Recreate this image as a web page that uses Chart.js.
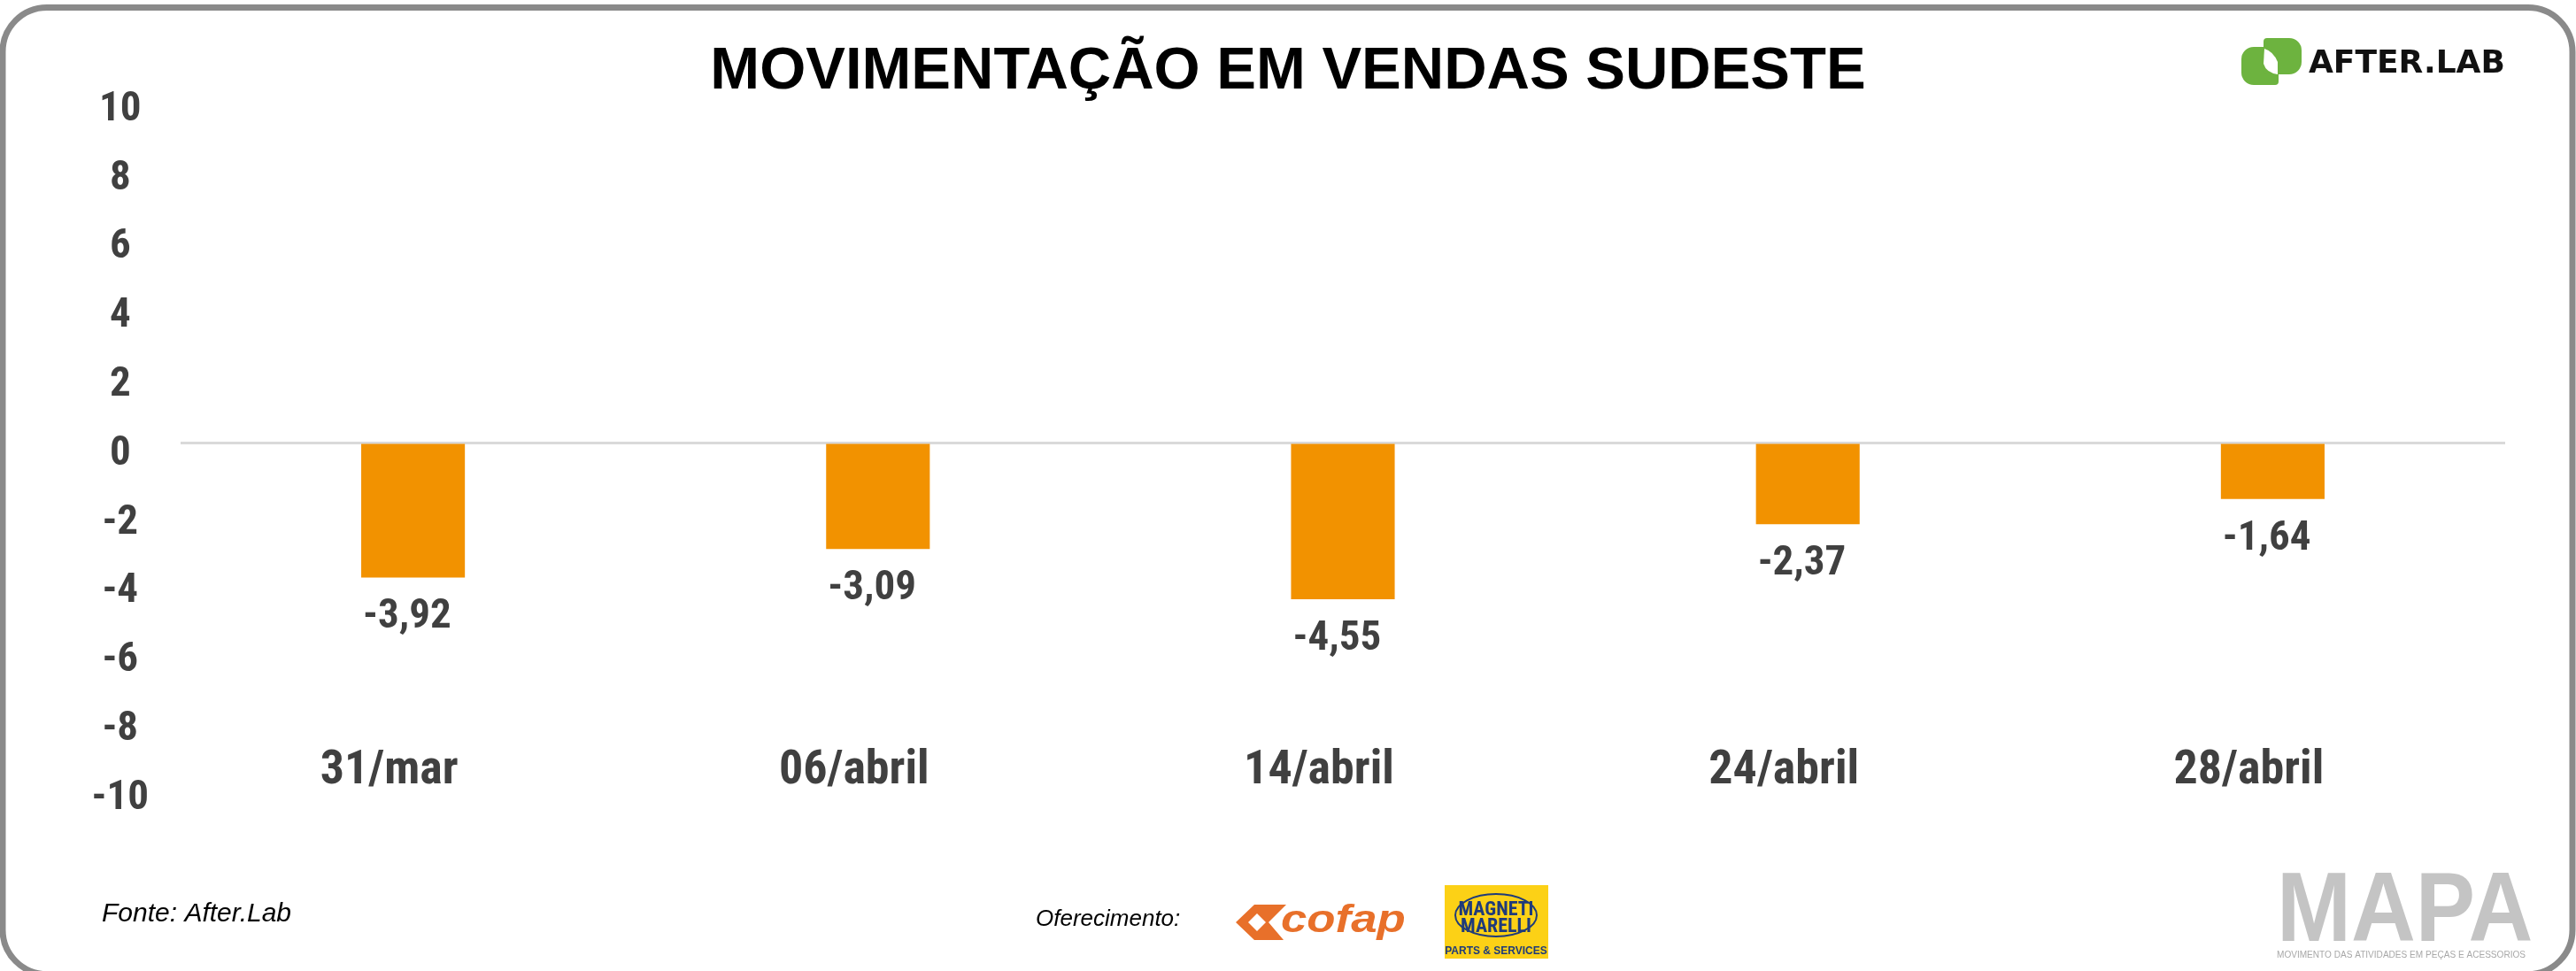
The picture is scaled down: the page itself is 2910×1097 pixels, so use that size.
<!DOCTYPE html>
<html><head><meta charset="utf-8">
<script src="https://cdn.jsdelivr.net/npm/chart.js@4.4.1/dist/chart.umd.min.js"></script>
<style>html,body{margin:0;padding:0;background:#fff;overflow:hidden}canvas{display:block}</style>
</head><body>
<canvas id="c" width="2910" height="1097"></canvas>
<script>
// ---- data ----
const categories = ['31/mar', '06/abril', '14/abril', '24/abril', '28/abril'];
const values = [-3.92, -3.09, -4.55, -2.37, -1.64];
const yMin = -10, yMax = 10, yStep = 2;
const titleText = 'MOVIMENTAÇÃO EM VENDAS SUDESTE';
const sourceText = 'Fonte: After.Lab';
const sponsorText = 'Oferecimento:';

// ---- pick a narrow bold font that is installed ----
function pickNarrow() {
  const c = document.createElement('canvas').getContext('2d');
  const s = '0123456789/abrilmar-,';
  const w = (f) => { c.font = f; return c.measureText(s).width; };
  const fams = ['Liberation Sans Narrow', 'Arial Narrow', 'Roboto Condensed', 'Nimbus Sans Narrow',
                'Open Sans Condensed', 'Noto Sans Condensed'];
  for (const f of fams) {
    if (w('bold 50px "' + f + '", monospace') !== w('bold 50px monospace') &&
        w('bold 50px "' + f + '", serif') !== w('bold 50px serif')) {
      return { family: '"' + f + '", sans-serif', weight: 'bold' };
    }
  }
  for (const f of ['Open Sans', 'Noto Sans', 'Roboto']) {
    const n = w('bold 50px "' + f + '"');
    const k = w('bold condensed 50px "' + f + '"');
    if (k < n * 0.9) return { family: '"' + f + '", sans-serif', weight: 'bold condensed' };
  }
  return { family: '"DejaVu Sans Condensed", "DejaVu Sans", sans-serif', weight: 'bold' };
}
const NARROW = pickNarrow();
const SANS = '"Liberation Sans", Arial, sans-serif';
const TEXT_GREY = '#404040';
const BAR_COLOR = '#F29200';

function fmt(v) { return v.toFixed(2).replace('.', ','); }

const framePlugin = {
  id: 'frame',
  beforeDraw(chart) {
    const ctx = chart.ctx;
    ctx.save();
    ctx.fillStyle = '#ffffff';
    ctx.fillRect(0, 0, chart.width, chart.height);
    ctx.beginPath();
    ctx.roundRect(3, 8.5, 2903, 1092, 50);
    ctx.lineWidth = 7;
    ctx.strokeStyle = '#8a8a8a';
    ctx.stroke();
    ctx.restore();
  },
  afterDraw(chart) {
    const ctx = chart.ctx;
    ctx.save();
    // title
    ctx.fillStyle = '#000';
    ctx.font = 'bold 67px ' + SANS;
    ctx.textAlign = 'center';
    ctx.textBaseline = 'alphabetic';
    ctx.fillText(titleText, 1455, 100);

    // AFTER.LAB logo
    ctx.fillStyle = '#6DB33F';
    ctx.beginPath(); ctx.roundRect(2532, 53, 42, 43, [14, 4, 4, 14]); ctx.fill();
    ctx.beginPath(); ctx.roundRect(2557, 43, 43, 41, [4, 14, 14, 4]); ctx.fill();
    ctx.fillStyle = '#ffffff';
    ctx.beginPath();
    ctx.moveTo(2558, 55);
    ctx.quadraticCurveTo(2568, 58, 2573, 70);
    ctx.lineTo(2573, 84);
    ctx.quadraticCurveTo(2560, 82, 2557, 72);
    ctx.closePath();
    ctx.fill();
    ctx.fillStyle = '#111';
    ctx.font = 'bold 36px "DejaVu Sans", sans-serif';
    ctx.textAlign = 'left';
    ctx.fillText('AFTER.LAB', 2608, 82);

    // footer source
    ctx.fillStyle = '#000';
    ctx.font = 'italic 30px ' + SANS;
    ctx.fillText(sourceText, 115, 1041);
    ctx.font = 'italic 26px ' + SANS;
    ctx.fillText(sponsorText, 1170, 1046);

    // cofap logo
    ctx.fillStyle = '#E8702A';
    ctx.beginPath();
    ctx.moveTo(1396, 1042); ctx.lineTo(1417, 1022); ctx.lineTo(1453, 1022);
    ctx.lineTo(1433, 1042); ctx.lineTo(1450, 1062); ctx.lineTo(1417, 1062);
    ctx.closePath(); ctx.fill();
    ctx.fillStyle = '#ffffff';
    ctx.beginPath();
    ctx.moveTo(1410, 1042); ctx.lineTo(1420, 1032); ctx.lineTo(1430, 1042); ctx.lineTo(1420, 1052);
    ctx.closePath(); ctx.fill();
    ctx.fillStyle = '#E8702A';
    ctx.save();
    ctx.translate(1447, 1053);
    ctx.scale(1.2, 1);
    ctx.font = 'italic bold 44px ' + SANS;
    ctx.fillText('cofap', 0, 0);
    ctx.restore();

    // Magneti Marelli logo
    ctx.fillStyle = '#FCD116';
    ctx.fillRect(1632, 1000, 117, 83);
    ctx.strokeStyle = '#1F3B7A';
    ctx.lineWidth = 2;
    ctx.beginPath(); ctx.ellipse(1690, 1034, 46, 24, 0, 0, Math.PI * 2); ctx.stroke();
    ctx.fillStyle = '#1F3B7A';
    ctx.textAlign = 'center';
    ctx.font = NARROW.weight + ' 22px ' + NARROW.family;
    ctx.fillText('MAGNETI', 1690, 1034);
    ctx.fillText('MARELLI', 1690, 1053);
    ctx.font = 'bold 12px ' + SANS;
    ctx.fillText('PARTS & SERVICES', 1690, 1078);

    // MAPA logo
    ctx.fillStyle = '#C4C4C4';
    ctx.save();
    ctx.translate(2572, 1063);
    ctx.scale(0.9, 1);
    ctx.textAlign = 'left';
    ctx.font = 'bold 112px ' + SANS;
    ctx.fillText('MAPA', 0, 0);
    ctx.restore();
    ctx.fillStyle = '#A8A8A8';
    ctx.font = '10px ' + SANS;
    ctx.textAlign = 'left';
    const sub = 'MOVIMENTO DAS ATIVIDADES EM PEÇAS E ACESSORIOS';
    const w = ctx.measureText(sub).width;
    ctx.save();
    ctx.translate(2572, 1082);
    ctx.scale(281 / w, 1);
    ctx.fillText(sub, 0, 0);
    ctx.restore();
    ctx.restore();
  }
};

const valueLabelPlugin = {
  id: 'valueLabels',
  afterDatasetsDraw(chart) {
    const ctx = chart.ctx;
    const meta = chart.getDatasetMeta(0);
    ctx.save();
    ctx.fillStyle = TEXT_GREY;
    ctx.font = NARROW.weight + ' 47px ' + NARROW.family;
    ctx.textAlign = 'left';
    ctx.textBaseline = 'alphabetic';
    meta.data.forEach((bar, i) => {
      const v = chart.data.datasets[0].data[i];
      const left = bar.x - bar.width / 2 + 2;
      const y = v < 0 ? bar.y + 57 : bar.y - 20;
      ctx.fillText(fmt(v), left, y);
    });
    ctx.restore();
  }
};

new Chart(document.getElementById('c'), {
  type: 'bar',
  data: {
    labels: categories,
    datasets: [{
      data: values,
      backgroundColor: BAR_COLOR,
      borderWidth: 0,
      barPercentage: 0.223,
      categoryPercentage: 1.0
    }]
  },
  options: {
    responsive: false,
    devicePixelRatio: 1,
    animation: false,
    layout: { padding: { left: 0, right: 80, top: 111, bottom: 158 } },
    plugins: { legend: { display: false }, tooltip: { enabled: false }, title: { display: false } },
    scales: {
      x: {
        grid: { display: false, drawTicks: false },
        border: { display: false },
        afterFit(scale) {
          scale.height = 50;
          scale._computeLabelArea = function () { return undefined; };
        },
        ticks: {
          color: TEXT_GREY,
          font: { family: NARROW.family, size: 54, weight: NARROW.weight },
          padding: -50,
          labelOffset: -27,
          maxRotation: 0,
          autoSkip: false
        }
      },
      y: {
        min: yMin,
        max: yMax,
        afterFit(scale) { scale.width = 204; },
        grid: {
          drawTicks: false,
          color: (c) => (c.tick && c.tick.value === 0 ? '#d9d9d9' : 'rgba(0,0,0,0)'),
          lineWidth: 3
        },
        border: { display: false },
        ticks: {
          stepSize: yStep,
          color: TEXT_GREY,
          font: { family: NARROW.family, size: 47, weight: NARROW.weight },
          crossAlign: 'center',
          padding: 36,
          labelOffset: 13
        }
      }
    }
  },
  plugins: [framePlugin, valueLabelPlugin]
});
</script>
</body></html>
